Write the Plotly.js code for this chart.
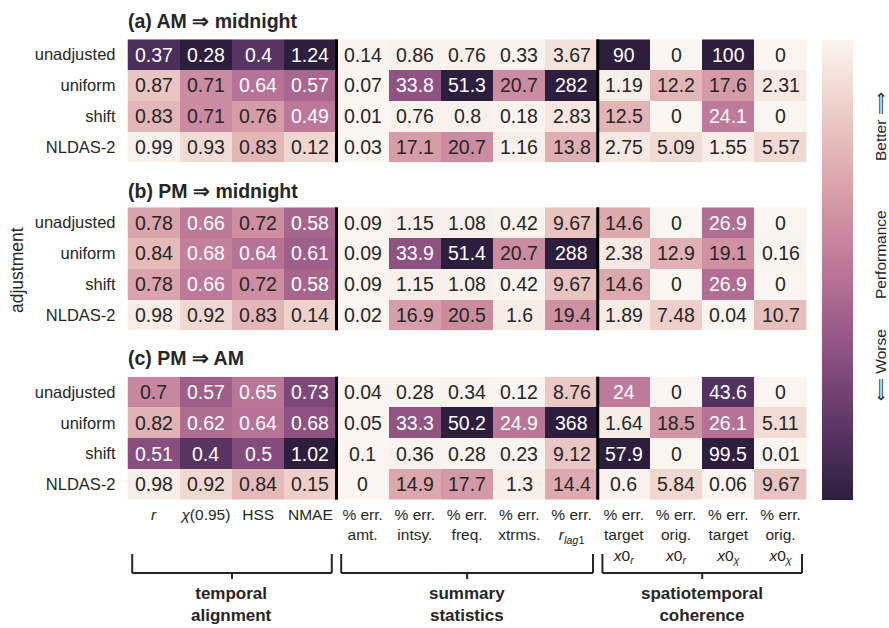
<!DOCTYPE html>
<html><head><meta charset="utf-8">
<script src="https://cdn.plot.ly/plotly-3.0.1.min.js"></script>
<style>html,body{margin:0;padding:0;background:#fff}</style>
</head><body><div id="chart" style="width:889px;height:628px"></div>
<script>
// ---------------- data ----------------
const rowLabels = ['unadjusted', 'uniform', 'shift', 'NLDAS-2'];
const colLabels = [
  '<i>r</i>', '<i>χ</i>(0.95)', 'HSS', 'NMAE',
  '% err.<br>amt.', '% err.<br>intsy.', '% err.<br>freq.', '% err.<br>xtrms.',
  '% err.<br><i>r</i><sub><i>lag</i>1</sub>',
  '% err.<br>target<br><i>x</i>0<sub><i>r</i></sub>',
  '% err.<br>orig.<br><i>x</i>0<sub><i>r</i></sub>',
  '% err.<br>target<br><i>x</i>0<sub><i>χ</i></sub>',
  '% err.<br>orig.<br><i>x</i>0<sub><i>χ</i></sub>'
];
// how each column is judged: 'up' = higher better, 'down' = lower better, 'err' = % error
const colKind = ['up','up','up','down','err','err','err','err','err','err','err','err','err'];
const panelTitles = ['(a) AM ⇒ midnight', '(b) PM ⇒ midnight', '(c) PM ⇒ AM'];

const valuesA = [
  [0.37, 0.28, 0.4, 1.24, 0.14, 0.86, 0.76, 0.33, 3.67, 90, 0, 100, 0],
  [0.87, 0.71, 0.64, 0.57, 0.07, 33.8, 51.3, 20.7, 282, 1.19, 12.2, 17.6, 2.31],
  [0.83, 0.71, 0.76, 0.49, 0.01, 0.76, 0.8, 0.18, 2.83, 12.5, 0, 24.1, 0],
  [0.99, 0.93, 0.83, 0.12, 0.03, 17.1, 20.7, 1.16, 13.8, 2.75, 5.09, 1.55, 5.57]
];
const valuesB = [
  [0.78, 0.66, 0.72, 0.58, 0.09, 1.15, 1.08, 0.42, 9.67, 14.6, 0, 26.9, 0],
  [0.84, 0.68, 0.64, 0.61, 0.09, 33.9, 51.4, 20.7, 288, 2.38, 12.9, 19.1, 0.16],
  [0.78, 0.66, 0.72, 0.58, 0.09, 1.15, 1.08, 0.42, 9.67, 14.6, 0, 26.9, 0],
  [0.98, 0.92, 0.83, 0.14, 0.02, 16.9, 20.5, 1.6, 19.4, 1.89, 7.48, 0.04, 10.7]
];
const valuesC = [
  [0.7, 0.57, 0.65, 0.73, 0.04, 0.28, 0.34, 0.12, 8.76, 24, 0, 43.6, 0],
  [0.82, 0.62, 0.64, 0.68, 0.05, 33.3, 50.2, 24.9, 368, 1.64, 18.5, 26.1, 5.11],
  [0.51, 0.4, 0.5, 1.02, 0.1, 0.36, 0.28, 0.23, 9.12, 57.9, 0, 99.5, 0.01],
  [0.98, 0.92, 0.84, 0.15, 0, 14.9, 17.7, 1.3, 14.4, 0.6, 5.84, 0.06, 9.67]
];
const groupNames = [['temporal', 'alignment'], ['summary', 'statistics'], ['spatiotemporal', 'coherence']];
const groupCols = [[0, 3], [4, 8], [9, 12]];
const cbarLabels = ['⟸ Worse', 'Performance', 'Better ⟹'];

// ---------------- helpers ----------------
const FONT = 'Liberation Sans, Arial, Helvetica, sans-serif';
const INK = '#262626';
const W = 889, H = 628;
const px = x => x / W;
const py = y => 1 - y / H;

function cubehelix(x) {
  const start = 0, rot = 0.4, gamma = 1, hue = 0.8;
  const xg = Math.pow(x, gamma);
  const a = hue * xg * (1 - xg) / 2;
  const phi = 2 * Math.PI * (start / 3 + rot * x);
  const f = (p0, p1) => Math.min(1, Math.max(0, xg + a * (p0 * Math.cos(phi) + p1 * Math.sin(phi))));
  const r = f(-0.14861, 1.78277), g = f(-0.29227, -0.90649), b = f(1.97294, 0.0);
  return 'rgb(' + Math.round(r * 255) + ',' + Math.round(g * 255) + ',' + Math.round(b * 255) + ')';
}
const LIGHT = 0.965, DARK = 0.15;
const colorscale = [];
for (let i = 0; i <= 40; i++) {
  const s = i / 40;
  colorscale.push([s, cubehelix(DARK + (LIGHT - DARK) * s)]);
}
const clamp = v => Math.max(0, Math.min(1, v));
function score(v, kind) {
  if (kind === 'up') return clamp((v - 0.3) / 0.7);
  if (kind === 'down') return clamp(1 - v);
  return clamp(1 - Math.abs(v) / 50);
}

// ---------------- layout geometry ----------------
const plotX = [127.5, 806.7];
const panelY = [[39.3, 162.3], [207.3, 330.3], [376.7, 499.7]];
const titleY = [20.7, 190.7, 357.5];
const panels = [valuesA, valuesB, valuesC];

const traces = [];
const annotations = [];
const shapes = [];
const layout = {
  width: W, height: H,
  margin: {l: 0, r: 0, t: 0, b: 0},
  paper_bgcolor: '#fff', plot_bgcolor: '#fff',
  font: {family: FONT, color: INK},
  showlegend: false
};

panels.forEach((vals, p) => {
  const n = p === 0 ? '' : String(p + 1);
  const z = vals.map(row => row.map((v, j) => score(v, colKind[j])));
  traces.push({
    type: 'heatmap',
    x: colLabels.map((_, j) => j),
    y: rowLabels.map((_, i) => i),
    z: z, zmin: 0, zmax: 1,
    colorscale: colorscale,
    showscale: p === 0,
    hoverinfo: 'skip',
    xaxis: 'x' + n, yaxis: 'y' + n,
    colorbar: p === 0 ? {
      x: px(821.7), xanchor: 'left', xpad: 0, ypad: 0,
      y: py(270), yanchor: 'middle',
      len: 460 / H, lenmode: 'fraction',
      thickness: 30.6, outlinewidth: 0,
      showticklabels: false, ticks: ''
    } : undefined
  });
  const xa = {
    domain: [px(plotX[0]), px(plotX[1])],
    anchor: 'y' + n, range: [-0.5, 12.5],
    showgrid: false, zeroline: false, showline: false, ticks: '',
    showticklabels: p === 2,
    fixedrange: true
  };
  if (p === 2) {
    Object.assign(xa, {
      tickmode: 'array',
      tickvals: colLabels.map((_, j) => j), ticktext: colLabels, tickangle: 0,
      tickfont: {size: 15.5, color: INK, family: FONT},
      ticklabelstandoff: 4
    });
  }
  layout['xaxis' + n] = xa;
  layout['yaxis' + n] = {
    domain: [py(panelY[p][1]), py(panelY[p][0])],
    anchor: 'x' + n, range: [3.5, -0.5],
    showgrid: false, zeroline: false, showline: false, ticks: '',
    tickmode: 'array',
    tickvals: rowLabels.map((_, i) => i), ticktext: rowLabels,
    tickfont: {size: 16.5, color: INK, family: FONT},
    ticklabelstandoff: 11, fixedrange: true
  };
  // cell values
  vals.forEach((row, i) => row.forEach((v, j) => {
    annotations.push({
      xref: 'x' + n, yref: 'y' + n, x: j, y: i,
      text: String(v), showarrow: false,
      font: {size: 19.5, family: FONT, color: z[i][j] < 0.55 ? '#ffffff' : INK}
    });
  }));
  // group separators
  [3.5, 8.5].forEach(xv => shapes.push({
    type: 'line', xref: 'x' + n, yref: 'y' + n + ' domain',
    x0: xv, x1: xv, y0: 0, y1: 1, line: {color: '#000', width: 3}
  }));
  // panel title
  annotations.push({
    xref: 'paper', yref: 'paper', x: px(plotX[0] - 2), y: py(titleY[p]),
    xanchor: 'left', yanchor: 'middle', showarrow: false,
    text: '<b>' + panelTitles[p] + '</b>',
    font: {size: 19.5, family: FONT, color: INK}
  });
});

// y axis title
annotations.push({
  xref: 'paper', yref: 'paper', x: px(17), y: py(270),
  xanchor: 'center', yanchor: 'middle', textangle: -90, showarrow: false,
  text: 'adjustment', font: {size: 17.5, family: FONT, color: INK}
});

// colorbar labels
const cbarY = [365, 255, 127];
cbarLabels.forEach((t, k) => annotations.push({
  xref: 'paper', yref: 'paper', x: px(880), y: py(cbarY[k]),
  xanchor: 'center', yanchor: 'middle', textangle: -90, showarrow: false,
  text: t, font: {size: 15.5, family: FONT, color: INK}
}));

// brackets + group labels
groupCols.forEach((gc, g) => {
  const x0 = gc[0] - 0.5 + 0.09, x1 = gc[1] + 0.5 - 0.09, xc = (gc[0] + gc[1]) / 2;
  const yTop = py(554), yBot = py(573), yTick = py(579);
  const ln = {color: INK, width: 2};
  shapes.push({type: 'line', xref: 'x3', yref: 'paper', x0: x0, x1: x0, y0: yTop, y1: yBot, line: ln});
  shapes.push({type: 'line', xref: 'x3', yref: 'paper', x0: x1, x1: x1, y0: yTop, y1: yBot, line: ln});
  shapes.push({type: 'line', xref: 'x3', yref: 'paper', x0: x0, x1: x1, y0: yBot, y1: yBot, line: ln});
  shapes.push({type: 'line', xref: 'x3', yref: 'paper', x0: xc, x1: xc, y0: yBot, y1: yTick, line: ln});
  annotations.push({
    xref: 'x3', yref: 'paper', x: xc, y: py(604),
    xanchor: 'center', yanchor: 'middle', showarrow: false,
    text: '<b>' + groupNames[g].join('<br>') + '</b>',
    font: {size: 17, family: FONT, color: INK}
  });
});

layout.annotations = annotations;
layout.shapes = shapes;
Plotly.newPlot('chart', traces, layout, {displayModeBar: false, staticPlot: true});
</script>
</body></html>
